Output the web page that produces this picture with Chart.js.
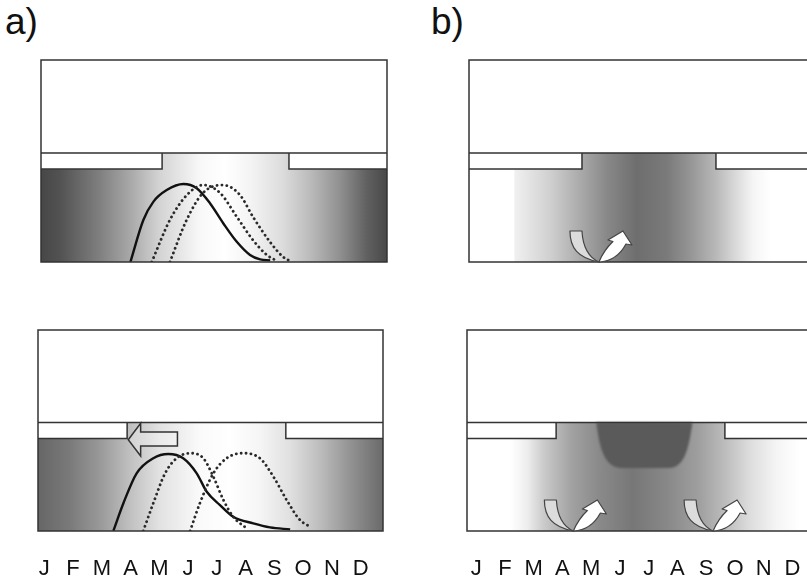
<!DOCTYPE html>
<html><head><meta charset="utf-8">
<script src="https://cdn.jsdelivr.net/npm/chart.js@4/dist/chart.umd.min.js"></script>
<style>
html,body{margin:0;padding:0;background:#fff;width:807px;height:582px;overflow:hidden;position:relative;font-family:'Liberation Sans',Arial,sans-serif}
canvas{position:absolute}
.lbl{position:absolute;font-size:37px;line-height:1;color:#111;font-family:'Liberation Sans',Arial,sans-serif}
</style></head><body>
<div class="lbl" style="left:5px;top:3px">a)</div>
<div class="lbl" style="left:431px;top:3px">b)</div>
<canvas id="aTop" width="366" height="222" style="left:31px;top:50px"></canvas>
<canvas id="aBot" width="365" height="262" style="left:28px;top:320px"></canvas>
<canvas id="bTop" width="365" height="222" style="left:459px;top:50px"></canvas>
<canvas id="bBot" width="365" height="262" style="left:457px;top:320px"></canvas>
<script>
// ---------- data ----------
const MONTHS = ['J','F','M','A','M','J','J','A','S','O','N','D'];

// panel a) top: one solid and two dotted seasonal curves (x = month, y = level)
const A_TOP_SOLID_X = [3.1, 3.55, 3.9, 4.36, 4.94, 5.4, 5.86, 6.32, 6.79, 7.25, 7.6, 7.95];
const A_TOP_SOLID_Y = [0, 20.8, 29.9, 35.6, 38.6, 36.5, 29.1, 19.2, 10, 3.5, 1.3, 0.8];
const A_TOP_DOT1_X  = [3.84, 4.47, 5.05, 5.62, 6.21, 6.79, 7.35, 7.83, 8.18];
const A_TOP_DOT1_Y  = [0, 20.8, 33, 38.1, 34.2, 22.4, 10.9, 3.5, 0.5];
const A_TOP_DOT2_X  = [4.47, 5.05, 5.62, 6.31, 6.9, 7.35, 7.94, 8.39, 8.64];
const A_TOP_DOT2_Y  = [0, 20.8, 34.2, 38.1, 33.2, 22.4, 10, 2.6, 0.5];

// panel a) bottom
const A_BOT_SOLID_X = [2.62, 2.97, 3.43, 4.01, 4.53, 5.05, 5.52, 5.87, 6.33, 6.79, 7.49, 8.07, 8.77];
const A_BOT_SOLID_Y = [0, 13.8, 28.7, 36.2, 38.3, 36.2, 28.7, 19.5, 12.9, 7.1, 3.8, 1.8, 0.8];
const A_BOT_DOT1_X  = [3.66, 4.01, 4.42, 4.82, 5.29, 5.75, 6.1, 6.45, 6.79, 7.26];
const A_BOT_DOT1_Y  = [0, 13.8, 28.7, 36.2, 38.7, 36.2, 27, 15.4, 7.1, 1.3];
const A_BOT_DOT2_X  = [5.29, 5.63, 6.1, 6.56, 7.14, 7.72, 8.19, 8.65, 9.11, 9.52];
const A_BOT_DOT2_Y  = [0, 13.8, 28.7, 36.2, 38.7, 36.2, 27, 15.4, 5.5, 1.8];

// ice cover: month where the left ice ends and the right ice starts
const A_TOP_ICE = [4.2, 8.6];
const A_BOT_ICE = [3.1, 8.62];
const B_TOP_ICE = [3.93, 8.59];
const B_BOT_ICE = [3.1, 8.97];

// month positions of the mixing (curly) arrows
const B_TOP_SWIRLS = [4.52];
const B_BOT_SWIRLS = [3.7, 8.56];

// ---------- layout / style constants ----------
const ICE_TOP = 54, ICE_BOTTOM = 46;
const LINE = '#333';
const FONT = "'Liberation Sans', Arial, sans-serif";

const STYLE = {
  aTop: { ice: A_TOP_ICE, stops: [[0,'#474747'],[0.66,'#525252'],[2.05,'#808080'],[3.09,'#a8a8a8'],[4.13,'#d4d4d4'],[5.52,'#f8f8f8'],[6.38,'#ffffff'],[7.25,'#f4f4f4'],[8.39,'#dcdcdc'],[9.33,'#bbbbbb'],[10.37,'#909090'],[11.31,'#606060'],[12,'#484848']] },
  aBot: { ice: A_BOT_ICE, arrow: true, stops: [[0,'#666666'],[1.11,'#7a7a7a'],[2.16,'#999999'],[3.2,'#c0c0c0'],[4.24,'#e2e2e2'],[5.63,'#fafafa'],[6.68,'#ffffff'],[7.72,'#f5f5f5'],[8.77,'#e0e0e0'],[9.8,'#bdbdbd'],[10.85,'#939393'],[12,'#6a6a6a']] },
  bTop: { ice: B_TOP_ICE, swirls: B_TOP_SWIRLS, stops: [[0,'#ffffff'],[1.55,'#ffffff'],[1.6,'#f0f0f0'],[2.82,'#d0d0d0'],[3.93,'#a8a8a8'],[4.8,'#888888'],[5.84,'#6e6e6e'],[6.89,'#7a7a7a'],[7.69,'#959595'],[8.59,'#b8b8b8'],[9.18,'#d5d5d5'],[9.88,'#f5f5f5'],[10.47,'#ffffff'],[12,'#ffffff']] },
  bBot: { ice: B_BOT_ICE, swirls: B_BOT_SWIRLS, blob: true, stops: [[0,'#ffffff'],[1.5,'#ffffff'],[2.09,'#eeeeee'],[2.64,'#cccccc'],[3.1,'#b8b8b8'],[3.69,'#a0a0a0'],[4.59,'#8a8a8a'],[5.77,'#777777'],[6.96,'#888888'],[8.1,'#a0a0a0'],[8.97,'#bcbcbc'],[9.84,'#dddddd'],[10.78,'#f5f5f5'],[11.58,'#ffffff'],[12,'#ffffff']] }
};

function pts(xs, ys){ return xs.map((x,i)=>({x, y: ys[i]})); }

function drawSwirl(ctx, px, py){
  ctx.save();
  ctx.translate(px, py);
  ctx.lineWidth = 1.2; ctx.strokeStyle = '#444'; ctx.lineJoin = 'round';
  // grey down-going band
  ctx.beginPath();
  ctx.moveTo(-29,-31); ctx.lineTo(-17,-31);
  ctx.bezierCurveTo(-16,-14,-9,-4,0,0);
  ctx.bezierCurveTo(-21,-4,-29,-14,-29,-31);
  ctx.closePath();
  ctx.fillStyle = '#dcdcdc'; ctx.fill(); ctx.stroke();
  // white up-going arrow
  ctx.beginPath();
  ctx.moveTo(0,0);
  ctx.quadraticCurveTo(18,-1,27,-18);
  ctx.lineTo(33,-17); ctx.lineTo(24,-31); ctx.lineTo(9,-22); ctx.lineTo(14,-20.5);
  ctx.quadraticCurveTo(5,-12,0,0);
  ctx.closePath();
  ctx.fillStyle = '#ffffff'; ctx.fill(); ctx.stroke();
  ctx.restore();
}

const panelPlugin = {
  id: 'panel',
  beforeDatasetsDraw(chart){
    const st = STYLE[chart.canvas.id];
    const {ctx, scales:{x, y}} = chart;
    const X = v => x.getPixelForValue(v), Y = v => y.getPixelForValue(v);
    ctx.save();
    const g = ctx.createLinearGradient(X(0), 0, X(12), 0);
    st.stops.forEach(([m,c]) => g.addColorStop(m/12, c));
    ctx.fillStyle = g;
    ctx.fillRect(X(0), Y(ICE_TOP), X(12)-X(0), Y(0)-Y(ICE_TOP));
    if (st.blob){
      ctx.save();
      ctx.filter = 'blur(0.8px)';
      ctx.beginPath();
      ctx.moveTo(X(4.5), Y(ICE_TOP));
      ctx.bezierCurveTo(X(4.62), Y(40), X(4.8), Y(31.5), X(5.4), Y(31.3));
      ctx.lineTo(X(7.0), Y(31.3));
      ctx.bezierCurveTo(X(7.55), Y(31.5), X(7.7), Y(40), X(7.84), Y(ICE_TOP));
      ctx.closePath();
      ctx.fillStyle = '#5a5a5a';
      ctx.fill();
      ctx.restore();
    }
    const [l, r] = st.ice;
    ctx.fillStyle = '#ffffff';
    ctx.fillRect(X(0), Y(ICE_TOP), X(l)-X(0), Y(ICE_BOTTOM)-Y(ICE_TOP));
    ctx.fillRect(X(r), Y(ICE_TOP), X(12)-X(r), Y(ICE_BOTTOM)-Y(ICE_TOP));
    ctx.strokeStyle = LINE; ctx.lineWidth = 1.5;
    ctx.beginPath();
    ctx.moveTo(X(0), Y(ICE_BOTTOM)); ctx.lineTo(X(l), Y(ICE_BOTTOM)); ctx.lineTo(X(l), Y(ICE_TOP));
    ctx.moveTo(X(12), Y(ICE_BOTTOM)); ctx.lineTo(X(r), Y(ICE_BOTTOM)); ctx.lineTo(X(r), Y(ICE_TOP));
    ctx.moveTo(X(0), Y(ICE_TOP)); ctx.lineTo(X(12), Y(ICE_TOP));
    ctx.stroke();
    ctx.restore();
  },
  afterDatasetsDraw(chart){
    const st = STYLE[chart.canvas.id];
    const {ctx, scales:{x, y}} = chart;
    const X = v => x.getPixelForValue(v), Y = v => y.getPixelForValue(v);
    ctx.save();
    ctx.strokeStyle = LINE; ctx.lineWidth = 1.5;
    ctx.strokeRect(X(0), Y(100), X(12)-X(0), Y(0)-Y(100));
    if (st.arrow){
      ctx.beginPath();
      ctx.moveTo(X(3.14), Y(45.4));
      ctx.lineTo(X(3.57), Y(53.6));
      ctx.lineTo(X(3.57), Y(49.3));
      ctx.lineTo(X(4.85), Y(49.3));
      ctx.lineTo(X(4.85), Y(42.3));
      ctx.lineTo(X(3.57), Y(42.3));
      ctx.lineTo(X(3.57), Y(37.3));
      ctx.closePath();
      ctx.fillStyle = 'rgba(255,255,255,0.3)';
      ctx.fill();
      ctx.lineJoin = 'miter';
      ctx.stroke();
    }
    (st.swirls || []).forEach(m => drawSwirl(ctx, X(m), Y(0)));
    ctx.restore();
  }
};

function solid(data){ return {data, borderColor:'#111', borderWidth:2.4, pointRadius:0, cubicInterpolationMode:'monotone', fill:false}; }
function dotted(data){ return {data, borderColor:'#2a2a2a', borderWidth:2.8, borderDash:[0.1,4.8], borderCapStyle:'round', pointRadius:0, cubicInterpolationMode:'monotone', fill:false}; }

function make(id, datasets, bottom, labelShift){
  const xScale = {type:'linear', min:0, max:12, display:false};
  if (bottom){
    Object.assign(xScale, {
      display:true,
      grid:{display:false, drawTicks:false},
      border:{display:false},
      afterBuildTicks: s => { s.ticks = MONTHS.map((m,i)=>({value: i + labelShift})); },
      afterFit: s => { s.height = 51; s.paddingLeft = 0; s.paddingRight = 0; },
      ticks:{autoSkip:false, maxRotation:0, minRotation:0, padding:25, color:'#111',
             font:{family:FONT, size:22}, callback:(v,i)=>MONTHS[i]}
    });
  }
  return new Chart(document.getElementById(id), {
    type:'line',
    data:{datasets},
    options:{
      responsive:false, animation:false, events:[],
      layout:{padding: bottom ? {top:10,left:10,right:10,bottom:0} : 10},
      plugins:{legend:{display:false}, tooltip:{enabled:false}},
      scales:{ x:xScale, y:{type:'linear', min:0, max:100, display:false} }
    },
    plugins:[panelPlugin]
  });
}

make('aTop', [dotted(pts(A_TOP_DOT1_X,A_TOP_DOT1_Y)), dotted(pts(A_TOP_DOT2_X,A_TOP_DOT2_Y)), solid(pts(A_TOP_SOLID_X,A_TOP_SOLID_Y))], false);
make('aBot', [dotted(pts(A_BOT_DOT1_X,A_BOT_DOT1_Y)), dotted(pts(A_BOT_DOT2_X,A_BOT_DOT2_Y)), solid(pts(A_BOT_SOLID_X,A_BOT_SOLID_Y))], true, 0.22);
make('bTop', [], false);
make('bBot', [], true, 0.32);
</script>
</body></html>
